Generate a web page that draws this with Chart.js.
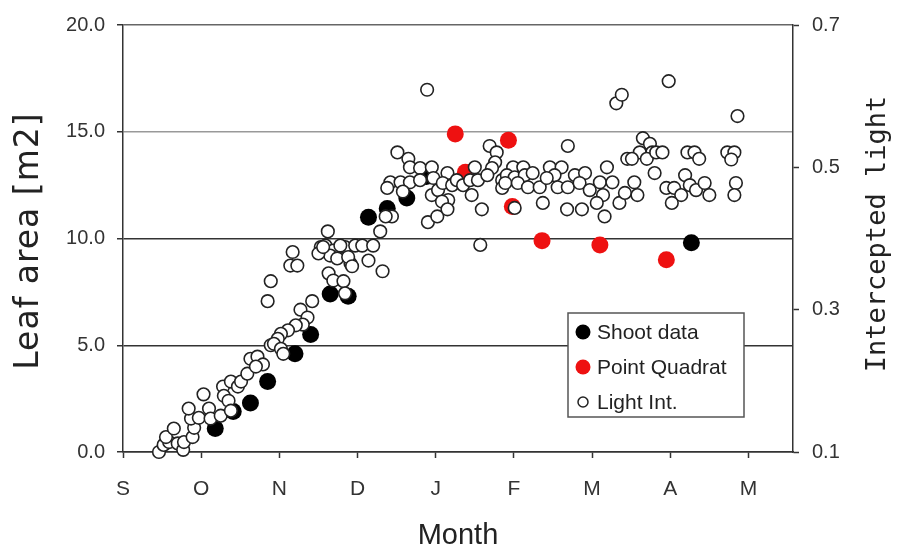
<!DOCTYPE html>
<html>
<head>
<meta charset="utf-8">
<script src="https://cdn.jsdelivr.net/npm/chart.js@4.4.1/dist/chart.umd.min.js"></script>
<style>
  html, body { margin: 0; padding: 0; background: #fff; }
  #wrap { width: 900px; height: 554px; }
</style>
</head>
<body>
<div id="wrap"><canvas id="chart" width="900" height="554"></canvas></div>
<script>
let monthLabels = ["S", "O", "N", "D", "J", "F", "M", "A", "M"];
let leftTicks = [0, 5, 10, 15, 20];
let rightTicks = [0.1, 0.3, 0.5, 0.7];

// shoot data, leaf area [m2], x = months after 1 Sep
let shootMonth = [1.18, 1.41, 1.63, 1.85, 2.20, 2.40, 2.65, 2.88, 3.14, 3.38, 3.63, 3.88, 7.27];
let shootArea = [1.1, 1.9, 2.3, 3.3, 4.6, 5.5, 7.4, 7.3, 11.0, 11.4, 11.9, 12.9, 9.8];

// point quadrat, leaf area [m2]
let quadratMonth = [4.25, 4.38, 4.93, 4.98, 5.36, 6.10, 6.95];
let quadratArea = [14.9, 13.1, 14.6, 11.5, 9.9, 9.7, 9.0];

// light interception (right axis)
let lightMonth = [
  0.46, 0.52, 0.59, 0.55, 0.65, 0.70, 0.77, 0.78, 0.89, 0.91,
  0.87, 0.84, 0.97, 1.03, 1.10, 1.12, 1.25, 1.28, 1.29, 1.35,
  1.38, 1.47, 1.51, 1.59, 1.63, 1.72, 1.79, 1.70, 1.89, 1.38,
  2.62, 2.17, 2.14, 2.23, 1.89, 1.85, 2.42, 2.27, 2.36, 2.30,
  2.21, 2.11, 2.02, 1.98, 1.93, 2.02, 2.05, 2.53, 2.59, 2.69,
  2.65, 2.74, 2.84, 2.91, 2.88, 2.97, 2.63, 2.69, 2.82, 2.84,
  2.50,
  3.51, 3.65, 3.67, 3.80, 3.95, 3.97, 3.42, 3.38, 3.55, 3.67,
  3.80, 3.58, 3.95, 3.44, 3.36, 3.29, 3.90, 4.02, 2.56, 2.78,
  3.06, 3.20, 2.93, 3.14, 3.32, 4.03,
  3.89, 4.15, 4.09, 4.16, 4.08, 4.15, 4.21, 4.27, 4.35, 4.44,
  4.50, 4.54, 4.46, 4.59, 4.69, 4.78, 4.76, 4.72, 4.66, 4.85,
  4.85, 4.57,
  5.69, 4.99, 5.12, 4.91, 5.01, 5.14, 5.24, 4.89, 5.05, 5.18,
  5.33, 5.46, 5.61, 5.52, 5.42, 5.56, 5.69, 5.78, 5.91, 5.84,
  5.97, 6.10, 6.19, 6.26, 6.14, 6.06, 5.87, 5.68, 5.37, 6.16,
  6.35, 6.42, 6.45, 5.01,
  6.31, 6.38, 6.98, 7.86, 6.65, 6.74, 6.77, 6.61, 6.51, 6.70,
  6.82, 6.90, 6.80, 6.54, 6.58, 6.95, 7.05, 7.14, 7.02, 7.22,
  7.31, 7.37, 7.19, 7.25, 7.33, 7.44, 7.50, 7.73, 7.82, 7.78,
  7.84, 7.82
];
let lightValue = [
  0.100, 0.110, 0.114, 0.121, 0.133, 0.112, 0.103, 0.114, 0.121, 0.134,
  0.147, 0.161, 0.148, 0.181, 0.161, 0.147, 0.151, 0.192, 0.179, 0.172,
  0.199, 0.192, 0.199, 0.210, 0.231, 0.234, 0.223, 0.220, 0.250, 0.158,
  0.410, 0.381, 0.362, 0.362, 0.340, 0.312, 0.312, 0.300, 0.289, 0.279,
  0.278, 0.271, 0.266, 0.259, 0.252, 0.245, 0.238, 0.388, 0.390, 0.383,
  0.376, 0.372, 0.388, 0.365, 0.374, 0.390, 0.351, 0.341, 0.340, 0.323,
  0.379,
  0.521, 0.512, 0.500, 0.499, 0.500, 0.485, 0.479, 0.471, 0.479, 0.479,
  0.482, 0.466, 0.461, 0.431, 0.431, 0.410, 0.423, 0.431, 0.388, 0.390,
  0.390, 0.390, 0.361, 0.369, 0.354, 0.468,
  0.609, 0.492, 0.478, 0.454, 0.452, 0.441, 0.475, 0.482, 0.475, 0.482,
  0.500, 0.482, 0.461, 0.441, 0.530, 0.521, 0.507, 0.499, 0.489, 0.482,
  0.471, 0.391,
  0.530, 0.500, 0.500, 0.489, 0.486, 0.489, 0.492, 0.478, 0.478, 0.472,
  0.472, 0.500, 0.500, 0.489, 0.485, 0.472, 0.472, 0.489, 0.492, 0.478,
  0.468, 0.479, 0.500, 0.479, 0.461, 0.450, 0.441, 0.441, 0.450, 0.431,
  0.450, 0.464, 0.512, 0.443,
  0.590, 0.602, 0.621, 0.572, 0.541, 0.533, 0.521, 0.521, 0.512, 0.512,
  0.521, 0.521, 0.492, 0.479, 0.461, 0.471, 0.471, 0.461, 0.450, 0.521,
  0.521, 0.512, 0.489, 0.475, 0.468, 0.478, 0.461, 0.521, 0.521, 0.511,
  0.478, 0.461
];

let toPoints = (xs, ys) => xs.map((x, i) => ({ x: x, y: ys[i] }));

// axis titles + legend box drawn on top of the chart
let extras = {
  id: "extras",
  afterDraw(chart) {
    const ctx = chart.ctx;
    ctx.save();
    ctx.fillStyle = "#222";
    ctx.textAlign = "center";
    ctx.textBaseline = "middle";

    ctx.save();
    ctx.translate(29, 241);
    ctx.rotate(-Math.PI / 2);
    ctx.font = "33px 'DejaVu Sans'";
    if ("letterSpacing" in ctx) ctx.letterSpacing = "1px";
    ctx.fillText("Leaf area [m2]", 0, 0);
    ctx.restore();

    ctx.save();
    ctx.translate(878, 234);
    ctx.rotate(-Math.PI / 2);
    ctx.font = "27px 'DejaVu Sans Mono'";
    ctx.fillText("Intercepted light", 0, 0);
    ctx.restore();

    ctx.font = "29px 'Liberation Sans'";
    ctx.fillText("Month", 458, 536);

    // legend
    ctx.fillStyle = "#fff";
    ctx.fillRect(568, 313, 176, 104);
    ctx.strokeStyle = "#555";
    ctx.lineWidth = 1.5;
    ctx.strokeRect(568, 313, 176, 104);
    ctx.textAlign = "left";
    ctx.font = "21px 'Liberation Sans'";
    let rows = [332, 367, 402];
    [0, 1, 2].forEach((di, k) => {
      const ds = chart.data.datasets[di];
      ctx.beginPath();
      ctx.arc(583, rows[k], di == 2 ? 5 : 7.5, 0, Math.PI * 2);
      ctx.fillStyle = ds.backgroundColor;
      ctx.fill();
      if (di == 2) {
        ctx.strokeStyle = ds.borderColor;
        ctx.lineWidth = 1.5;
        ctx.stroke();
      }
      ctx.fillStyle = "#222";
      ctx.fillText(ds.label, 597, rows[k] + 1);
    });
    ctx.restore();
  },
};

let gridColor = (c) => {
  if (!c.tick) return "#333";
  if (c.tick.value == 15) return "#999";
  if (c.tick.value == 20) return "#666";
  return "#333";
};

let tickFont = { family: "'Liberation Sans', Arial, sans-serif", size: 20 };

new Chart(document.getElementById("chart"), {
  type: "scatter",
  data: {
    datasets: [
      {
        label: "Shoot data",
        data: toPoints(shootMonth, shootArea),
        yAxisID: "y",
        backgroundColor: "#000",
        borderColor: "#000",
        borderWidth: 0,
        pointRadius: 8.5,
        order: 1,
      },
      {
        label: "Point Quadrat",
        data: toPoints(quadratMonth, quadratArea),
        yAxisID: "y",
        backgroundColor: "#ee1111",
        borderColor: "#ee1111",
        borderWidth: 0,
        pointRadius: 8.5,
        order: 2,
      },
      {
        label: "Light Int.",
        data: toPoints(lightMonth, lightValue),
        yAxisID: "y2",
        backgroundColor: "#fff",
        borderColor: "#222",
        borderWidth: 1.6,
        pointRadius: 6.3,
        order: 0,
      },
    ],
  },
  options: {
    responsive: false,
    animation: false,
    clip: false,
    layout: { padding: { top: 17, left: 0, right: 0, bottom: 0 } },
    plugins: { legend: { display: false }, tooltip: { enabled: false } },
    scales: {
      x: {
        type: "linear",
        min: 0,
        max: 8.57,
        afterBuildTicks: (s) => {
          s.ticks = monthLabels.map((_, i) => ({ value: i }));
        },
        afterFit: (s) => {
          s.height = 102;
        },
        ticks: {
          callback: (v, i) => monthLabels[i],
          font: { family: "'Liberation Sans', Arial, sans-serif", size: 21 },
          color: "#333",
          padding: 19,
          maxRotation: 0,
          autoSkip: false,
        },
        grid: { drawOnChartArea: false, tickLength: 6, tickColor: "#333", tickWidth: 1.5 },
        border: { color: "#333", width: 1.5 },
      },
      y: {
        position: "left",
        min: 0,
        max: 20,
        afterBuildTicks: (s) => {
          s.ticks = leftTicks.map((v) => ({ value: v }));
        },
        afterFit: (s) => {
          s.width = 123;
        },
        ticks: {
          callback: (v) => Number(v).toFixed(1),
          font: tickFont,
          color: "#333",
          padding: 12,
        },
        grid: { color: gridColor, lineWidth: 1.5, tickLength: 6, tickColor: "#333", tickWidth: 1.5 },
        border: { color: "#333", width: 1.5 },
      },
      y2: {
        position: "right",
        min: 0.1,
        max: 0.7,
        afterBuildTicks: (s) => {
          s.ticks = rightTicks.map((v) => ({ value: v }));
        },
        afterFit: (s) => {
          s.width = 107;
        },
        ticks: {
          callback: (v) => Number(v).toFixed(1),
          font: tickFont,
          color: "#333",
          padding: 13,
        },
        grid: { drawOnChartArea: false, tickLength: 6, tickColor: "#333", tickWidth: 1.5 },
        border: { color: "#333", width: 1.5 },
      },
    },
  },
  plugins: [extras],
});
</script>
</body>
</html>
